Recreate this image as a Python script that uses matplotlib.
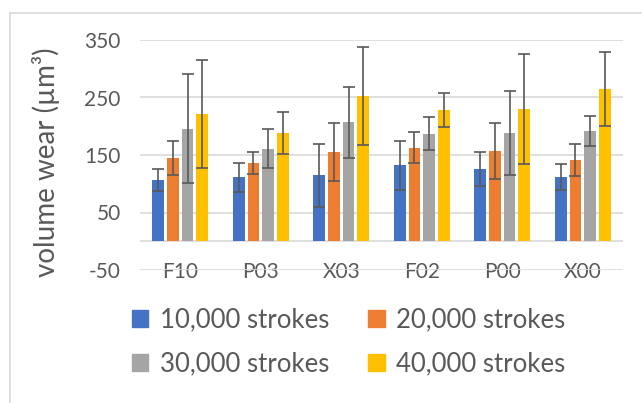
import numpy as np
import matplotlib.pyplot as plt
from matplotlib.lines import Line2D
from matplotlib.patches import Patch

plt.rcParams['font.family'] = ['Lato', 'DejaVu Sans']
plt.rcParams['axes.unicode_minus'] = False

samples = ['F10', 'P03', 'X03', 'F02', 'P00', 'X00']
series_labels = ['10,000 strokes', '20,000 strokes', '30,000 strokes', '40,000 strokes']
colors = ['#4472C4', '#ED7D31', '#A5A5A5', '#FFC000']

wear_10k = [107, 111, 115, 132, 126, 112]
wear_20k = [145, 136, 155, 163, 157, 142]
wear_30k = [196, 161, 207, 187, 189, 191]
wear_40k = [222, 188, 252, 228, 230, 265]

err_10k = [19, 25, 55, 42, 30, 23]
err_20k = [30, 19, 51, 27, 48, 28]
err_30k = [94, 34, 62, 29, 73, 26]
err_40k = [94, 36, 85, 29, 96, 64]

values = [wear_10k, wear_20k, wear_30k, wear_40k]
errors = [err_10k, err_20k, err_30k, err_40k]

fig = plt.figure(figsize=(6.42, 4.03), dpi=100)
ax = fig.add_axes([140 / 642, 1 - 270 / 403, 483 / 642, 230 / 403])

x = np.arange(len(samples))
width = 0.145
step = 0.182
for i, (vals, errs) in enumerate(zip(values, errors)):
    pos = x + (i - 1.5) * step
    ax.bar(pos, vals, width, color=colors[i], zorder=2, label=series_labels[i])
    ax.errorbar(pos, vals, yerr=errs, fmt='none', ecolor='#595959',
                elinewidth=1.2, capsize=4.5, capthick=1.2, zorder=3)

ax.set_xlim(-0.5, len(samples) - 0.5)
ax.set_ylim(-50, 350)
ax.set_yticks([-50, 50, 150, 250, 350])
ax.yaxis.grid(True, color='#d9d9d9', linewidth=1.2, zorder=0)
ax.axhline(0, color='#d9d9d9', linewidth=1.2, zorder=1)
for s in ax.spines.values():
    s.set_visible(False)
ax.tick_params(axis='both', length=0, colors='#595959', labelsize=15)
ax.tick_params(axis='y', pad=14)
ax.set_xticks(x)
ax.set_xticklabels(samples)
for lbl in ax.get_xticklabels():
    lbl.set_y(0.057)
ax.set_ylabel('volume wear (µm³)', fontsize=20, color='#595959')
ax.yaxis.set_label_coords(-0.166, 0.47)

# row-major legend: reorder for matplotlib's column-major fill
handles = [Patch(color=c, label=l) for c, l in zip(colors, series_labels)]
handles = [handles[0], handles[2], handles[1], handles[3]]
fig.legend(handles=handles, ncol=2, loc='center', bbox_to_anchor=(0.543, 0.152),
           frameon=False, fontsize=18.5, labelcolor='#595959',
           handlelength=0.65, handleheight=0.65, handletextpad=0.45,
           columnspacing=1.5, labelspacing=0.75)

# chart area border (left and top only visible)
fig.add_artist(Line2D([10 / 642, 10 / 642], [0, 1 - 13 / 403], transform=fig.transFigure,
                      color='#d9d9d9', linewidth=1.2))
fig.add_artist(Line2D([10 / 642, 1], [1 - 13 / 403, 1 - 13 / 403], transform=fig.transFigure,
                      color='#d9d9d9', linewidth=1.2))

fig.savefig('out.png', dpi=100)
